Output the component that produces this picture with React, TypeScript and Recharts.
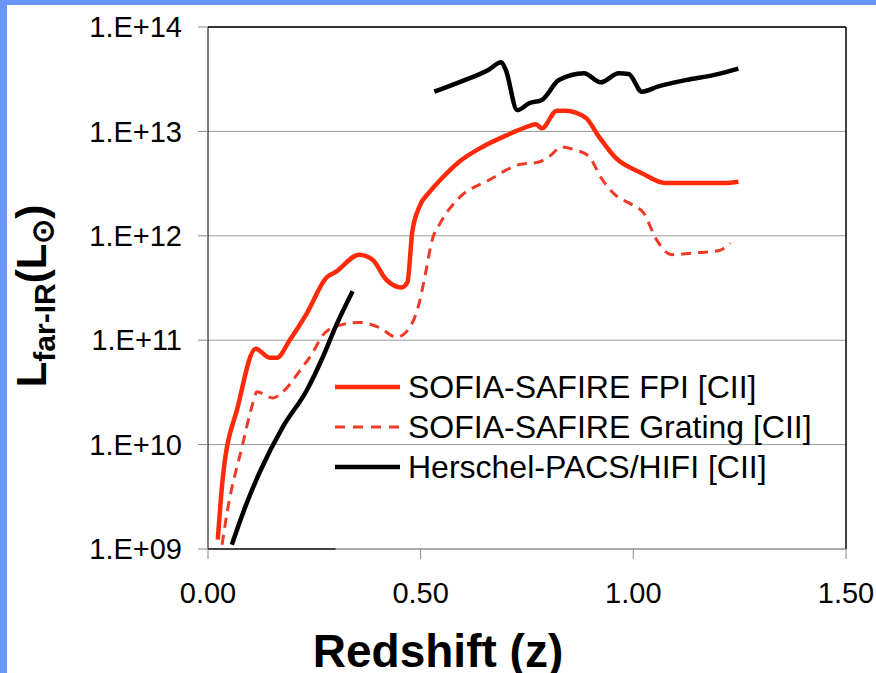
import React from 'react';
import {
    LineChart,
    Line,
    XAxis,
    YAxis,
    CartesianGrid,
    Legend,
    ReferenceLine
} from 'recharts';

// SOFIA-SAFIRE FPI [CII]
const fpiZ = [0.023, 0.035, 0.07, 0.112, 0.145, 0.162, 0.192, 0.232, 0.279, 0.3, 0.356, 0.387, 0.419, 0.455, 0.469, 0.48, 0.497, 0.52, 0.551, 0.59, 0.645, 0.7, 0.748, 0.771, 0.785, 0.82, 0.841, 0.888, 0.919, 0.958, 1.019, 1.075, 1.15, 1.216, 1.247];
const fpiL = [1.23e9, 4.9e9, 2.3e10, 8.3e10, 6.8e10, 6.8e10, 1.0e11, 1.8e11, 4.0e11, 4.5e11, 6.6e11, 5.9e11, 3.8e11, 3.2e11, 3.6e11, 1.07e12, 1.9e12, 2.6e12, 3.6e12, 5.1e12, 7.1e12, 9.1e12, 1.1e13, 1.17e13, 1.07e13, 1.58e13, 1.58e13, 1.35e13, 8.9e12, 5.6e12, 4.0e12, 3.2e12, 3.2e12, 3.2e12, 3.3e12];

// SOFIA-SAFIRE Grating [CII]
const gratingZ = [0.033, 0.047, 0.08, 0.103, 0.115, 0.152, 0.176, 0.216, 0.246, 0.27, 0.3, 0.356, 0.403, 0.443, 0.466, 0.497, 0.512, 0.527, 0.545, 0.59, 0.66, 0.731, 0.778, 0.806, 0.83, 0.865, 0.895, 0.926, 0.958, 0.996, 1.024, 1.055, 1.09, 1.153, 1.2, 1.228];
const gratingL = [1.1e9, 2.5e9, 9.5e9, 2.3e10, 3.2e10, 2.8e10, 3.2e10, 5.1e10, 7.6e10, 1.12e11, 1.35e11, 1.48e11, 1.32e11, 1.07e11, 1.2e11, 2.3e11, 4.5e11, 9.1e11, 1.3e12, 2.3e12, 3.4e12, 4.8e12, 5.1e12, 5.9e12, 7.1e12, 6.6e12, 5.8e12, 3.5e12, 2.45e12, 2.0e12, 1.66e12, 9.1e11, 6.6e11, 6.9e11, 7.2e11, 8.5e11];

// Herschel-PACS/HIFI [CII], two separate pieces
const pacsZ = [0.056, 0.091, 0.122, 0.176, 0.232, 0.27, 0.3, 0.34];
const pacsL = [1.1e9, 2.75e9, 5.5e9, 1.48e10, 3.3e10, 6.9e10, 1.35e11, 2.95e11];
const hifiZ = [0.532, 0.59, 0.66, 0.689, 0.7, 0.727, 0.755, 0.785, 0.825, 0.884, 0.923, 0.966, 0.989, 1.02, 1.059, 1.123, 1.193, 1.247];
const hifiL = [2.4e13, 2.95e13, 3.9e13, 4.6e13, 3.9e13, 1.6e13, 1.86e13, 2.0e13, 3.1e13, 3.6e13, 2.95e13, 3.6e13, 3.55e13, 2.4e13, 2.7e13, 3.1e13, 3.5e13, 4.0e13];

const xTicks = [0, 0.5, 1.0, 1.5];
const yTicks = [1e9, 1e10, 1e11, 1e12, 1e13, 1e14];

const legendNames = ['SOFIA-SAFIRE FPI [CII]', 'SOFIA-SAFIRE Grating [CII]', 'Herschel-PACS/HIFI [CII]'];

const toRows = (zs: number[], ls: number[]) => zs.map((z, i) => ({ z, L: ls[i] }));

const FONT = '"Liberation Sans", Arial, sans-serif';
const RED = '#ff2a0a';
const RED_DASH = '#ef3a26';

const legendStyles = [
    { stroke: RED, width: 4.5, dash: undefined },
    { stroke: RED_DASH, width: 3, dash: '10 8' },
    { stroke: '#000', width: 4.5, dash: undefined }
];

const renderLegend = () => (
    <div style={{ fontFamily: FONT }}>
        {legendNames.map((name, i) => (
            <div key={name} style={{ display: 'flex', alignItems: 'center', height: 40 }}>
                <svg width={65} height={12} style={{ marginRight: 8 }}>
                    <line x1={0} y1={6} x2={65} y2={6}
                        stroke={legendStyles[i].stroke}
                        strokeWidth={legendStyles[i].width}
                        strokeDasharray={legendStyles[i].dash} />
                </svg>
                <span style={{ fontSize: 32, color: '#000', whiteSpace: 'nowrap' }}>{name}</span>
            </div>
        ))}
    </div>
);

const expLabel = (v: number) => '1.E+' + String(Math.round(Math.log10(v))).padStart(2, '0');

const App: React.FC = () => {
    return (
        <div style={{ position: 'absolute', left: 0, top: 0, width: 876, height: 673, background: '#6a97f7', overflow: 'hidden' }}>
            <div style={{ position: 'absolute', left: 7, top: 5, right: 0, bottom: 0, background: '#fff' }} />
            <div style={{ position: 'absolute', left: 0, top: 0 }}>
                <LineChart width={876} height={673} margin={{ top: 27, right: 30, left: 0, bottom: 0 }}>
                    <CartesianGrid vertical={false} stroke="#9a9a9a" />
                    <XAxis
                        dataKey="z"
                        type="number"
                        domain={[0, 1.5]}
                        ticks={xTicks}
                        allowDataOverflow
                        height={124}
                        tickSize={10}
                        tickMargin={23}
                        stroke="#888"
                        tick={{ fill: '#000', fontSize: 29, fontFamily: FONT }}
                        tickFormatter={(v: number) => v.toFixed(2)}
                        label={{
                            content: () => (
                                <text x={438} y={667} textAnchor="middle" fontFamily={FONT} fontWeight="bold" fontSize={46} fill="#000">
                                    Redshift (z)
                                </text>
                            )
                        }}
                    />
                    <YAxis
                        type="number"
                        scale="log"
                        domain={[1e9, 1e14]}
                        ticks={yTicks}
                        allowDataOverflow
                        width={208}
                        tickSize={10}
                        tickMargin={16}
                        stroke="#000"
                        tickLine={{ stroke: '#888' }}
                        tick={{ fill: '#000', fontSize: 29, fontFamily: FONT }}
                        tickFormatter={expLabel}
                        label={{
                            content: () => (
                                <text transform="rotate(-90, 46, 296)" x={46} y={296} textAnchor="middle" fontFamily={FONT} fontWeight="bold" fontSize={42} fill="#000">
                                    L
                                    <tspan fontSize={30} dy={9}>far-IR</tspan>
                                    <tspan dy={-9}>(L</tspan>
                                    <tspan fontSize={30} dy={7}>⊙</tspan>
                                    <tspan dy={-7}>)</tspan>
                                </text>
                            )
                        }}
                    />
                    <ReferenceLine y={1e14} stroke="#000" strokeWidth={1.5} />
                    <ReferenceLine x={1.5} stroke="#000" strokeWidth={1.5} />
                    <ReferenceLine segment={[{ x: 0, y: 1e9 }, { x: 0.3, y: 1e9 }]} stroke="#000" strokeWidth={2} />
                    <Legend
                        layout="horizontal"
                        verticalAlign="middle"
                        align="center"
                        content={renderLegend}
                        wrapperStyle={{ left: 335, top: 367, width: 'auto', height: 'auto' }}
                    />
                    <Line data={toRows(fpiZ, fpiL)} dataKey="L" name={legendNames[0]} type="monotone" stroke={RED} strokeWidth={4.5} dot={false} isAnimationActive={false} />
                    <Line data={toRows(gratingZ, gratingL)} dataKey="L" name={legendNames[1]} type="monotone" stroke={RED_DASH} strokeWidth={3} strokeDasharray="10 7" dot={false} isAnimationActive={false} />
                    <Line data={toRows(pacsZ, pacsL)} dataKey="L" name={legendNames[2]} type="monotone" stroke="#000" strokeWidth={4.5} dot={false} isAnimationActive={false} />
                    <Line data={toRows(hifiZ, hifiL)} dataKey="L" name="hifi" legendType="none" type="monotone" stroke="#000" strokeWidth={4.5} dot={false} isAnimationActive={false} />
                </LineChart>
            </div>
        </div>
    );
};

export default App;
